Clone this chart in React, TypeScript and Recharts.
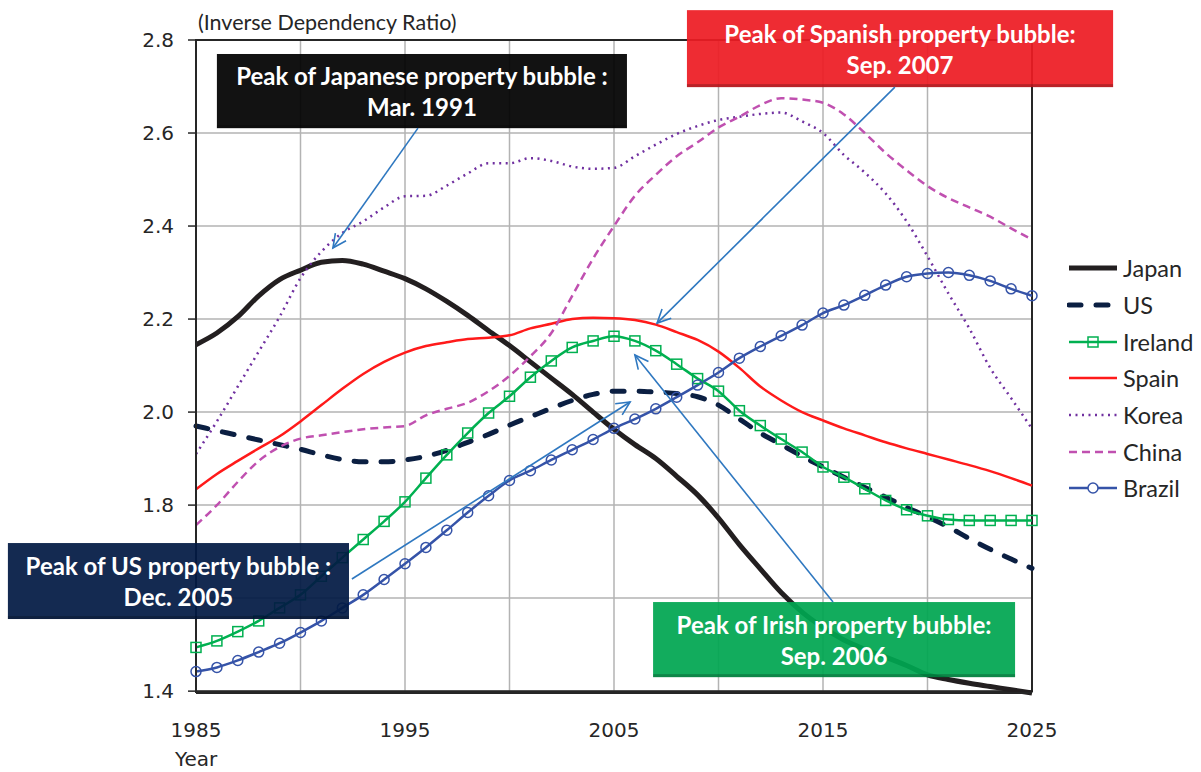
import React from 'react'
import {
  LineChart,
  Line,
  XAxis,
  YAxis,
  CartesianGrid,
  ReferenceArea,
} from 'recharts'

// ─── Data ─────────────────────────────────────────────────────────────────────

const YEARS = [
  1985, 1986, 1987, 1988, 1989, 1990, 1991, 1992, 1993, 1994,
  1995, 1996, 1997, 1998, 1999, 2000, 2001, 2002, 2003, 2004,
  2005, 2006, 2007, 2008, 2009, 2010, 2011, 2012, 2013, 2014,
  2015, 2016, 2017, 2018, 2019, 2020, 2021, 2022, 2023, 2024,
  2025,
]

const JAPAN = [
  2.145, 2.17, 2.205, 2.25, 2.285, 2.305, 2.322, 2.326, 2.318, 2.303,
  2.287, 2.265, 2.238, 2.208, 2.175, 2.143, 2.108, 2.073, 2.038, 2.0,
  1.963, 1.93, 1.9, 1.862, 1.822, 1.772, 1.715, 1.663, 1.612, 1.57,
  1.537, 1.51, 1.49, 1.473, 1.455, 1.435, 1.425, 1.417, 1.41, 1.403,
  1.396,
]

const US = [
  1.97, 1.96, 1.95, 1.94, 1.93, 1.92, 1.908, 1.898, 1.893, 1.893,
  1.897, 1.905, 1.918, 1.935, 1.952, 1.972, 1.99, 2.008, 2.025, 2.038,
  2.045, 2.045, 2.043, 2.04, 2.033, 2.015, 1.985, 1.955, 1.93, 1.905,
  1.882, 1.86, 1.838, 1.817, 1.795, 1.775, 1.753, 1.728, 1.705, 1.684,
  1.664,
]

const IRELAND = [
  1.494, 1.508, 1.528, 1.551, 1.579, 1.607, 1.647, 1.687, 1.726, 1.765,
  1.807, 1.858, 1.908, 1.955, 1.998, 2.034, 2.075, 2.11, 2.139, 2.153,
  2.163, 2.153, 2.132, 2.103, 2.072, 2.045, 2.003, 1.971, 1.942, 1.914,
  1.882, 1.86, 1.835, 1.81, 1.79, 1.777, 1.769, 1.767, 1.767, 1.767,
  1.767,
]

const SPAIN = [
  1.834, 1.867, 1.895, 1.922, 1.948, 1.98, 2.015, 2.05, 2.082, 2.108,
  2.128, 2.142, 2.15, 2.157, 2.16, 2.165, 2.18, 2.19, 2.2, 2.203,
  2.202, 2.198, 2.188, 2.172, 2.155, 2.13, 2.095, 2.055, 2.025, 2.0,
  1.982, 1.965, 1.95, 1.935, 1.922, 1.91, 1.898, 1.886, 1.873, 1.858,
  1.842,
]

const KOREA = [
  1.91, 1.98, 2.055, 2.13, 2.205, 2.288, 2.345, 2.385, 2.41, 2.44,
  2.464, 2.465, 2.487, 2.513, 2.535, 2.535, 2.546, 2.54, 2.528, 2.523,
  2.525, 2.55, 2.575, 2.598, 2.615, 2.628, 2.635, 2.641, 2.644, 2.625,
  2.6, 2.553, 2.515, 2.47, 2.41, 2.335, 2.255, 2.18, 2.095, 2.03,
  1.964,
]

const CHINA = [
  1.757, 1.8, 1.85, 1.895, 1.925, 1.943, 1.95, 1.957, 1.963, 1.967,
  1.97, 1.993, 2.007, 2.02, 2.045, 2.078, 2.12, 2.17, 2.25, 2.33,
  2.4, 2.465, 2.51, 2.55, 2.58, 2.612, 2.635, 2.66, 2.675, 2.672,
  2.665, 2.64, 2.6, 2.557, 2.52, 2.486, 2.46, 2.44, 2.42, 2.395,
  2.371,
]

const BRAZIL = [
  1.442, 1.451, 1.466, 1.484, 1.503, 1.526, 1.551, 1.579, 1.607, 1.64,
  1.674, 1.709, 1.746, 1.784, 1.82, 1.853, 1.874, 1.897, 1.919, 1.941,
  1.965, 1.985, 2.007, 2.032, 2.058, 2.085, 2.116, 2.141, 2.164, 2.187,
  2.213, 2.23, 2.251, 2.273, 2.291, 2.298, 2.3, 2.294, 2.282, 2.265,
  2.25,
]

const X_TICKS = [1985, 1990, 1995, 2000, 2005, 2010, 2015, 2020, 2025]
const X_LABELED = [1985, 1995, 2005, 2015, 2025]
const Y_TICKS = [1.4, 1.6, 1.8, 2.0, 2.2, 2.4, 2.6, 2.8]
// 1.6 sits under the US callout box in the original
const Y_HIDDEN = [1.6]

// ─── Layout ───────────────────────────────────────────────────────────────────

const W = 1201
const H = 772
const MARGIN = { top: 40, right: 169, bottom: 39, left: 136 }
const Y_AXIS_W = 60
const X_AXIS_H = 40
const X_DOMAIN = [1985, 2025]
const Y_DOMAIN = [1.4, 2.8]

const PLOT_L = MARGIN.left + Y_AXIS_W
const PLOT_R = W - MARGIN.right
const PLOT_T = MARGIN.top
const PLOT_B = H - MARGIN.bottom - X_AXIS_H

// same linear mapping as the chart's axes, for the overlaid callouts
const px = (x: number) => PLOT_L + ((x - X_DOMAIN[0]) / (X_DOMAIN[1] - X_DOMAIN[0])) * (PLOT_R - PLOT_L)
const py = (y: number) => PLOT_B - ((y - Y_DOMAIN[0]) / (Y_DOMAIN[1] - Y_DOMAIN[0])) * (PLOT_B - PLOT_T)

// ─── Styles ───────────────────────────────────────────────────────────────────

type Marker = 'none' | 'square' | 'circle'

interface Series {
  key:    string
  name:   string
  values: number[]
  color:  string
  width:  number
  dash?:  string
  cap?:   'round' | 'butt'
  marker: Marker
}

const SERIES: Series[] = [
  { key: 'japan',   name: 'Japan',   values: JAPAN,   color: '#231f20', width: 5,   marker: 'none' },
  { key: 'us',      name: 'US',      values: US,      color: '#0b1f42', width: 5,   dash: '12 15', cap: 'round', marker: 'none' },
  { key: 'ireland', name: 'Ireland', values: IRELAND, color: '#00b050', width: 2.5, marker: 'square' },
  { key: 'spain',   name: 'Spain',   values: SPAIN,   color: '#ff1a1a', width: 2.5, marker: 'none' },
  { key: 'korea',   name: 'Korea',   values: KOREA,   color: '#7030a0', width: 2.5, dash: '2 4.5', marker: 'none' },
  { key: 'china',   name: 'China',   values: CHINA,   color: '#c050b0', width: 2.5, dash: '8 5', marker: 'none' },
  { key: 'brazil',  name: 'Brazil',  values: BRAZIL,  color: '#3553a8', width: 2.5, marker: 'circle' },
]

const data = YEARS.map((year, i) => {
  const row: Record<string, number> = { year }
  SERIES.forEach(s => { row[s.key] = s.values[i] })
  return row
})

// callout boxes, in data units: [x1, x2, y1, y2]; arrow [[from], [to]]
const NOTES = [
  {
    lines: ['Peak of Japanese property bubble :', 'Mar. 1991'],
    fill:  '#000000',
    box:   [1986.0, 2005.62, 2.611, 2.770],
    arrow: [[1995.62, 2.611], [1991.55, 2.354]],
  },
  {
    lines: ['Peak of Spanish property bubble:', 'Sep. 2007'],
    fill:  '#ed1c24',
    box:   [2008.49, 2028.88, 2.699, 2.864],
    arrow: [[2018.44, 2.699], [2007.06, 2.193]],
  },
  {
    lines: ['Peak of US property bubble :', 'Dec. 2005'],
    fill:  '#021a44',
    box:   [1976.0, 1992.32, 1.5586, 1.7215],
    arrow: [[1992.46, 1.6444], [2005.77, 2.0238]],
  },
  {
    lines: ['Peak of Irish property bubble:', 'Sep. 2006'],
    fill:  '#00a651',
    box:   [2006.87, 2024.19, 1.434, 1.595],
    arrow: [[2015.48, 1.595], [2006.0, 2.1246]],
  },
]

const TICK_FONT = { fill: '#262626', fontSize: 20, fontFamily: 'DejaVu Sans' }
const ARROW_COLOR = '#2f78c0'

// ─── Shapes ───────────────────────────────────────────────────────────────────

function SquareDot(props: any) {
  const { cx, cy, stroke, index } = props
  if (cx == null || cy == null) return <g key={index} />
  return (
    <rect key={index} x={cx - 5} y={cy - 5} width={10} height={10}
      fill="none" stroke={stroke} strokeWidth={1.5} />
  )
}

function Callouts() {
  return (
    <svg width={W} height={H} style={{ position: 'absolute', left: 0, top: 0, pointerEvents: 'none' }}>
      {NOTES.map((n, i) => {
        const x = px(n.box[0])
        const w = px(n.box[1]) - x
        const y = py(n.box[3])
        const h = py(n.box[2]) - y
        const cx = x + w / 2
        const cy = y + h / 2
        return (
          <g key={`box-${i}`}>
            <rect x={x} y={y} width={w} height={h} fill={n.fill} fillOpacity={0.93} />
            <rect x={x} y={y + h - 3} width={w} height={3} fill="#000" fillOpacity={0.22} />
            <text x={cx} y={cy - 15.5} textAnchor="middle" dominantBaseline="central"
              fill="#fff" fontFamily="Lato" fontWeight={700} fontSize={24}>{n.lines[0]}</text>
            <text x={cx} y={cy + 15.5} textAnchor="middle" dominantBaseline="central"
              fill="#fff" fontFamily="Lato" fontWeight={700} fontSize={24}>{n.lines[1]}</text>
          </g>
        )
      })}
      {NOTES.map((n, i) => {
        const x1 = px(n.arrow[0][0])
        const y1 = py(n.arrow[0][1])
        const x2 = px(n.arrow[1][0])
        const y2 = py(n.arrow[1][1])
        const a = Math.atan2(y2 - y1, x2 - x1)
        const len = 15
        const spread = 0.45
        const ax = x2 - len * Math.cos(a - spread)
        const ay = y2 - len * Math.sin(a - spread)
        const bx = x2 - len * Math.cos(a + spread)
        const by = y2 - len * Math.sin(a + spread)
        return (
          <g key={`arrow-${i}`} stroke={ARROW_COLOR} strokeWidth={1.6} fill="none">
            <line x1={x1} y1={y1} x2={x2} y2={y2} />
            <polyline points={`${ax},${ay} ${x2},${y2} ${bx},${by}`} />
          </g>
        )
      })}
    </svg>
  )
}

// ─── Legend ───────────────────────────────────────────────────────────────────

function LegendSwatch({ s }: { s: Series }) {
  return (
    <svg width={54} height={20} style={{ display: 'block' }}>
      <line x1={2} y1={10} x2={50} y2={10} stroke={s.color} strokeWidth={s.width}
        strokeDasharray={s.dash} strokeLinecap={s.cap ?? 'butt'} />
      {s.marker === 'square' && (
        <rect x={21} y={5} width={10} height={10} fill="none" stroke={s.color} strokeWidth={1.5} />
      )}
      {s.marker === 'circle' && (
        <circle cx={26} cy={10} r={5} fill="#fff" stroke={s.color} strokeWidth={1.5} />
      )}
    </svg>
  )
}

function ChartLegend() {
  return (
    <div style={{ position: 'absolute', left: 1067, top: 250 }}>
      {SERIES.map(s => (
        <div key={s.key} style={{ display: 'flex', alignItems: 'center', height: 36.7 }}>
          <LegendSwatch s={s} />
          <span style={{ fontFamily: 'Lato', fontSize: 23.5, color: '#262626', marginLeft: 2 }}>{s.name}</span>
        </div>
      ))}
    </div>
  )
}

// ─── App ──────────────────────────────────────────────────────────────────────

export default function App() {
  return (
    <div style={{ position: 'absolute', left: 0, top: 0, width: W, height: H, background: '#fff' }}>
      <LineChart width={W} height={H} data={data} margin={MARGIN}>
        <CartesianGrid stroke="#b3b3b3" strokeWidth={1.5} />
        <XAxis
          dataKey="year"
          type="number"
          domain={X_DOMAIN}
          ticks={X_TICKS}
          interval={0}
          height={X_AXIS_H}
          tick={TICK_FONT}
          tickFormatter={(v: number) => (X_LABELED.includes(v) ? String(v) : '')}
          tickLine={false}
          tickMargin={24}
          axisLine={{ stroke: '#262626', strokeWidth: 2 }}
        />
        <YAxis
          type="number"
          domain={Y_DOMAIN}
          ticks={Y_TICKS}
          interval={0}
          width={Y_AXIS_W}
          tick={TICK_FONT}
          tickFormatter={(v: number) => (Y_HIDDEN.includes(v) ? '' : v.toFixed(1))}
          tickSize={8}
          tickMargin={14}
          tickLine={{ stroke: '#262626', strokeWidth: 1.5 }}
          axisLine={{ stroke: '#262626', strokeWidth: 2 }}
        />
        <ReferenceArea x1={X_DOMAIN[0]} x2={X_DOMAIN[1]} y1={Y_DOMAIN[0]} y2={Y_DOMAIN[1]} fill="none"
          stroke="#262626" strokeWidth={2} ifOverflow="visible" />
        {SERIES.map(s => (
          <Line
            key={s.key}
            dataKey={s.key}
            name={s.name}
            type="monotone"
            stroke={s.color}
            strokeWidth={s.width}
            strokeDasharray={s.dash}
            strokeLinecap={s.cap ?? 'butt'}
            dot={s.marker === 'square'
              ? <SquareDot />
              : s.marker === 'circle'
                ? { r: 5, fill: 'none', stroke: s.color, strokeWidth: 1.5 }
                : false}
            activeDot={false}
            isAnimationActive={false}
          />
        ))}
      </LineChart>
      <Callouts />
      <div style={{ position: 'absolute', left: 198, top: 9, fontFamily: 'Lato', fontSize: 21.5, color: '#262626' }}>
        (Inverse Dependency Ratio)
      </div>
      <div style={{ position: 'absolute', left: 175, top: 747, fontFamily: 'DejaVu Sans', fontSize: 20, color: '#262626' }}>
        Year
      </div>
      <ChartLegend />
    </div>
  )
}
